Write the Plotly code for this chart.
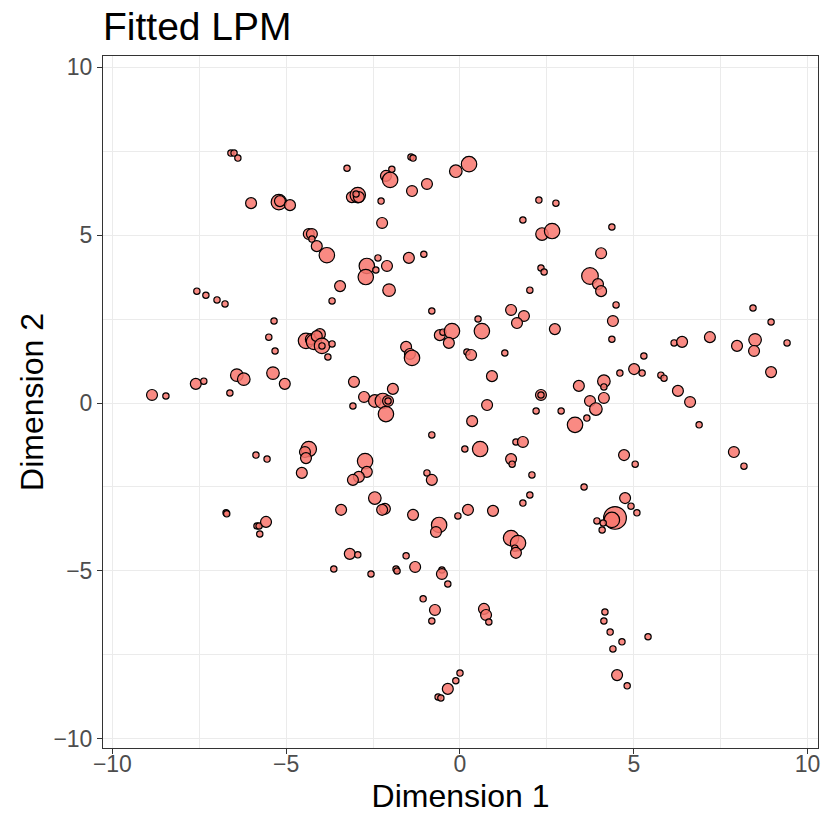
import numpy as np
import plotly.graph_objects as go

# Latent positions (Dimension 1, Dimension 2) and node size variable
dim1 = [-6.59, -6.50, -6.39, -6.01, -5.21, -5.18, -4.89, -4.35, -4.26, -4.26, -4.12, -3.83,
        -3.25, -1.41, -1.35, -1.96, -2.13, -2.01, -0.95, -1.38, -0.12, 0.26, -3.11, -2.94,
        -2.91, -2.99, -2.27, -2.24, 2.27, 2.76, 1.81, 2.36, 2.65, -2.68, -2.71, -2.36,
        -2.42, -2.10, -1.47, -1.04, 2.33, 2.42, 4.37, 4.06, 3.74, 3.97, 4.06, 4.49,
        4.40, 4.37, 5.29, 5.01, 4.60, 5.24, 5.78, 5.87, 6.16, 6.39, 7.19, 8.43,
        8.95, 8.49, 7.97, 8.46, 9.41, 8.95, 4.14, 4.14, 3.74, 4.14, 3.91, 6.27,
        6.62, 3.42, 3.65, -7.57, -7.31, -6.99, -6.76, -5.35, -5.50, -5.32, -4.43, -4.29,
        -4.20, -4.03, -4.12, -3.97, -3.97, -3.68, -3.80, -3.45, -3.68, -6.42, -6.22, -5.38,
        -5.04, -7.60, -7.37, -6.62, -8.86, -8.46, -2.04, 2.01, -0.81, 0.52, 1.47, 1.84,
        1.64, 2.73, 0.63, -0.58, -0.49, -0.23, -0.32, -1.55, -1.44, -1.38, 0.20, 0.32,
        1.29, 0.92, -3.05, -1.93, -2.76, -2.45, -2.22, -2.07, -2.07, -3.08, -2.13, 2.33,
        2.33, 0.78, 2.19, 2.91, 0.35, -4.35, -4.46, -4.43, -4.55, -5.87, -5.55, -3.42,
        -6.73, -6.71, -5.84, -5.78, -5.58, -5.76, -3.63, 3.31, -0.81, 0.14, 0.58, 1.61,
        1.81, 1.47, 1.50, -2.73, -2.68, -2.91, -3.08, -0.95, -0.81, 2.07, -2.45, -2.16,
        -2.24, -1.35, -0.06, 0.23, 0.95, 1.81, 2.01, -0.60, -0.69, 1.47, 1.67, 1.58,
        1.61, -3.17, -2.94, -1.55, -1.84, -1.29, -0.52, 6.88, 4.72, 5.04, 7.88, 8.17,
        3.57, 4.75, 4.92, 5.09, 4.46, 4.37, 3.94, 4.12, 4.09, -2.56, -1.81, -0.52,
        -0.35, -1.06, -0.72, -0.81, 0.69, 0.75, 0.83, 0.00, -0.12, -0.35, -0.63, -0.55,
        4.17, 4.14, 4.32, 4.66, 4.40, 5.41, 4.52, 4.81]

dim2 = [7.44, 7.44, 7.29, 5.95, 5.98, 6.01, 5.89, 5.03, 5.03, 4.88, 4.67, 4.40,
        6.99, 7.32, 7.29, 6.96, 6.76, 6.64, 6.52, 6.31, 6.90, 7.11, 6.13, 6.19,
        6.13, 6.22, 6.01, 5.36, 6.04, 5.95, 5.45, 5.03, 5.12, 4.08, 3.75, 4.32,
        3.96, 4.08, 4.32, 4.43, 4.02, 3.90, 5.24, 4.46, 3.78, 3.54, 3.33, 2.92,
        2.44, 1.90, 1.40, 1.01, 0.89, 0.89, 0.83, 0.74, 1.79, 1.82, 1.96, 2.83,
        2.41, 1.88, 1.70, 1.55, 1.79, 0.92, 0.65, 0.48, 0.06, 0.15, -0.18, 0.36,
        0.03, 0.51, -0.45, 3.33, 3.21, 3.07, 2.95, 2.44, 1.96, 1.55, 1.85, 1.90,
        1.82, 2.05, 1.99, 1.70, 1.70, 1.76, 1.37, 3.48, 3.04, 0.83, 0.71, 0.89,
        0.57, 0.57, 0.65, 0.30, 0.24, 0.21, 3.36, 3.36, 2.74, 2.50, 2.77, 2.59,
        2.38, 2.20, 2.14, 2.02, 2.11, 2.14, 1.79, 1.67, 1.46, 1.34, 1.52, 1.43,
        1.49, 0.80, 0.63, 0.42, 0.18, 0.06, 0.06, 0.06, 0.06, -0.09, -0.33, 0.24,
        0.24, -0.06, -0.24, -0.24, -0.54, -1.37, -1.46, -1.64, -2.08, -1.55, -1.67, -3.18,
        -3.27, -3.30, -3.66, -3.66, -3.54, -3.90, -4.94, -0.65, -0.95, -1.37, -1.37, -1.16,
        -1.16, -1.67, -1.82, -1.73, -2.05, -2.20, -2.29, -2.08, -2.29, -2.14, -2.83, -3.15,
        -3.18, -3.33, -3.36, -3.18, -3.21, -2.98, -2.74, -3.63, -3.84, -4.02, -4.17, -4.32,
        -4.46, -4.49, -4.52, -4.55, -4.94, -4.88, -4.97, -0.65, -1.55, -1.82, -1.46, -1.88,
        -2.50, -2.83, -3.07, -3.27, -3.42, -3.48, -3.51, -3.57, -3.78, -5.09, -5.00, -5.09,
        -5.39, -5.83, -6.16, -6.49, -6.13, -6.31, -6.52, -8.04, -8.27, -8.51, -8.75, -8.78,
        -6.22, -6.49, -6.82, -7.11, -7.32, -6.96, -8.10, -8.42]

node_size = [1, 1, 1, 3, 6, 3, 3, 3, 3, 1, 3, 6,
             1, 1, 1, 1, 3, 6, 3, 3, 4, 6, 3, 6,
             3, 1, 1, 3, 1, 1, 1, 4, 6, 6, 6, 1,
             1, 3, 3, 1, 1, 1, 1, 3, 7, 3, 3, 1,
             3, 1, 1, 3, 1, 1, 1, 1, 1, 3, 3, 1,
             1, 4, 3, 3, 1, 3, 4, 1, 3, 3, 4, 3,
             3, 3, 1, 1, 1, 1, 1, 1, 1, 1, 6, 3,
             6, 3, 3, 6, 1, 1, 1, 3, 1, 4, 4, 4,
             3, 3, 1, 1, 3, 1, 4, 1, 1, 1, 3, 3,
             3, 3, 6, 3, 1, 6, 3, 3, 3, 6, 1, 3,
             1, 3, 3, 3, 3, 4, 6, 3, 1, 1, 6, 3,
             1, 3, 1, 1, 3, 6, 3, 3, 3, 1, 1, 3,
             1, 1, 1, 1, 3, 1, 1, 6, 1, 1, 6, 1,
             3, 3, 1, 6, 3, 3, 3, 1, 3, 1, 4, 3,
             3, 3, 1, 3, 3, 1, 1, 6, 3, 6, 6, 1,
             3, 3, 1, 1, 1, 3, 1, 1, 3, 1, 3, 1,
             1, 3, 1, 1, 13, 6, 1, 1, 1, 1, 1, 3,
             1, 1, 3, 1, 3, 3, 1, 1, 1, 3, 1, 1,
             1, 1, 1, 1, 1, 1, 3, 1]

x_ticks = [-10, -5, 0, 5, 10]
y_ticks = [-10, -5, 0, 5, 10]
tick_text = ["\u221210", "\u22125", "0", "5", "10"]

diam = 6.3 * np.sqrt(np.array(node_size, dtype=float))

FONT = "Liberation Sans, Arial, sans-serif"

fig = go.Figure(go.Scatter(
    x=dim1, y=dim2, mode="markers",
    marker=dict(size=diam, color="rgba(248,118,109,0.85)", opacity=1,
                line=dict(color="black", width=1.2)),
    hoverinfo="x+y", showlegend=False,
))

axis_common = dict(
    showline=True, mirror=True, linecolor="#333333", linewidth=1,
    showgrid=True, gridcolor="#EBEBEB", gridwidth=1.1, zeroline=False,
    ticks="outside", ticklen=5, tickwidth=1, tickcolor="#333333",
    tickfont=dict(family=FONT, size=23, color="#4D4D4D"),
    automargin=False,
    minor=dict(tick0=2.5, dtick=5, showgrid=True, gridcolor="#EBEBEB", gridwidth=0.5, ticks=""),
)

fig.update_layout(
    width=826, height=814, autosize=False,
    margin=dict(l=103, r=8, t=56, b=66),
    paper_bgcolor="white", plot_bgcolor="white",
    title=dict(text="Fitted LPM", x=103/826, xref="container", xanchor="left",
               y=1 - 26/814, yref="container", yanchor="middle",
               font=dict(family=FONT, size=39, color="black")),
    xaxis=dict(axis_common, range=[-10.27, 10.30], tickvals=x_ticks, ticktext=tick_text,
               ticklabelstandoff=-10,
               title=dict(text="Dimension 1", font=dict(family=FONT, size=32, color="black"), standoff=12)),
    yaxis=dict(axis_common, range=[-10.27, 10.33], tickvals=y_ticks, ticktext=tick_text,
               title=dict(text="Dimension 2", font=dict(family=FONT, size=32, color="black"), standoff=0)),
)

fig.write_html("out.html")
